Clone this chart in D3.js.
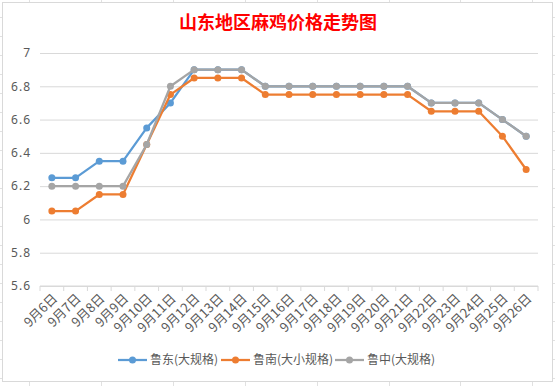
<!DOCTYPE html>
<html>
<head>
<meta charset="utf-8">
<script src="https://cdn.jsdelivr.net/npm/d3@7.9.0/dist/d3.min.js"></script>
<style>
  html, body { margin: 0; padding: 0; background: #fff; }
  svg { display: block; font-family: "Noto Sans CJK SC", "Microsoft YaHei", sans-serif; }
</style>
</head>
<body>
<script>
// Categories (dates) and series values
const dates = ["9月6日", "9月7日", "9月8日", "9月9日", "9月10日", "9月11日", "9月12日",
  "9月13日", "9月14日", "9月15日", "9月16日", "9月17日", "9月18日", "9月19日",
  "9月20日", "9月21日", "9月22日", "9月23日", "9月24日", "9月25日", "9月26日"];
const ludong = [6.25, 6.25, 6.35, 6.35, 6.55, 6.7, 6.9, 6.9, 6.9, 6.8, 6.8, 6.8, 6.8, 6.8, 6.8, 6.8, 6.7, 6.7, 6.7, 6.6, 6.5];
const lunan = [6.05, 6.05, 6.15, 6.15, 6.45, 6.75, 6.85, 6.85, 6.85, 6.75, 6.75, 6.75, 6.75, 6.75, 6.75, 6.75, 6.65, 6.65, 6.65, 6.5, 6.3];
const luzhong = [6.2, 6.2, 6.2, 6.2, 6.45, 6.8, 6.9, 6.9, 6.9, 6.8, 6.8, 6.8, 6.8, 6.8, 6.8, 6.8, 6.7, 6.7, 6.7, 6.6, 6.5];
const seriesNames = ["鲁东(大规格)", "鲁南(大小规格)", "鲁中(大规格)"];
const seriesColors = ["#5B9BD5", "#ED7D31", "#A5A5A5"];
const yTicks = [5.6, 5.8, 6, 6.2, 6.4, 6.6, 6.8, 7];
const title = "山东地区麻鸡价格走势图";

const W = 555, H = 386;
const box = { left: 3, top: 3, right: 553, bottom: 382 };
const plot = { left: 40, right: 538, top: 53, bottom: 286 };

const svg = d3.select("body").append("svg").attr("width", W).attr("height", H);

// spreadsheet cells peeking around the chart
const sheet = svg.append("g").attr("stroke", "#e1e1e1").attr("stroke-width", 1);
d3.range(29, W, 71.9).forEach(x => {
  sheet.append("line").attr("x1", Math.round(x) + 0.5).attr("x2", Math.round(x) + 0.5).attr("y1", 0).attr("y2", H);
});
d3.range(17, H, 19).forEach(y => {
  sheet.append("line").attr("x1", 0).attr("x2", W).attr("y1", Math.round(y) + 0.5).attr("y2", Math.round(y) + 0.5);
});

// chart area
svg.append("rect")
  .attr("x", box.left - 0.5).attr("y", box.top - 0.5)
  .attr("width", box.right - box.left).attr("height", box.bottom - box.top)
  .attr("fill", "#fff").attr("stroke", "#d9d9d9");

svg.append("text")
  .attr("x", (box.left + box.right) / 2).attr("y", 29)
  .attr("text-anchor", "middle")
  .attr("fill", "#ff0000")
  .style("font-size", "18px").style("font-weight", "bold")
  .text(title);

const x = d3.scaleBand().domain(dates).range([plot.left, plot.right]);
const y = d3.scaleLinear().domain([5.6, 7]).range([plot.bottom, plot.top]);

// gridlines
svg.append("g")
  .attr("transform", `translate(${plot.left},0)`)
  .call(d3.axisLeft(y).tickValues(yTicks).tickSize(-(plot.right - plot.left)).tickFormat(d3.format("~g")).tickPadding(9))
  .call(g => g.select(".domain").remove())
  .call(g => g.selectAll(".tick line").attr("stroke", "#d9d9d9"))
  .call(g => g.selectAll(".tick text").attr("fill", "#595959").style("font-size", "12px")
    .style("font-family", "'Noto Sans', 'Noto Sans CJK SC', sans-serif").style("letter-spacing", "1px"));

// x axis with ticks at category boundaries
const xg = svg.append("g").attr("transform", `translate(0,${plot.bottom})`);
xg.append("line").attr("x1", plot.left).attr("x2", plot.right).attr("stroke", "#d9d9d9");
xg.selectAll(".bt").data(d3.range(dates.length + 1)).enter().append("line")
  .attr("x1", i => plot.left + i * x.step()).attr("x2", i => plot.left + i * x.step())
  .attr("y1", 0).attr("y2", 5).attr("stroke", "#d9d9d9");
xg.selectAll(".lbl").data(dates).enter().append("text")
  .attr("transform", d => `translate(${x(d) + x.bandwidth() / 2 + 3},${10}) rotate(-45)`)
  .attr("text-anchor", "end")
  .attr("dy", "0.35em")
  .attr("fill", "#595959")
  .style("font-size", "13px")
  .text(d => d);

// series
const series = [ludong, lunan, luzhong];
const line = d3.line().x((d, i) => x(dates[i]) + x.bandwidth() / 2).y(d => y(d));
series.forEach((vals, si) => {
  const g = svg.append("g");
  g.append("path").datum(vals).attr("d", line).attr("fill", "none")
    .attr("stroke", seriesColors[si]).attr("stroke-width", 2.25).attr("stroke-linejoin", "round");
  g.selectAll("circle").data(vals).enter().append("circle")
    .attr("cx", (d, i) => x(dates[i]) + x.bandwidth() / 2).attr("cy", d => y(d))
    .attr("r", 3.5).attr("fill", seriesColors[si]);
});

// legend
const legendX = [118, 221, 335];
const lg = svg.append("g").attr("transform", "translate(0,360)");
seriesNames.forEach((name, i) => {
  const g = lg.append("g").attr("transform", `translate(${legendX[i]},0)`);
  g.append("line").attr("x1", 0).attr("x2", 29).attr("stroke", seriesColors[i]).attr("stroke-width", 2.25);
  g.append("circle").attr("cx", 14.5).attr("r", 3.5).attr("fill", seriesColors[i]);
  g.append("text").attr("x", 32).attr("dy", "0.35em").attr("fill", "#595959")
    .style("font-size", "12px").text(name);
});
</script>
</body>
</html>
